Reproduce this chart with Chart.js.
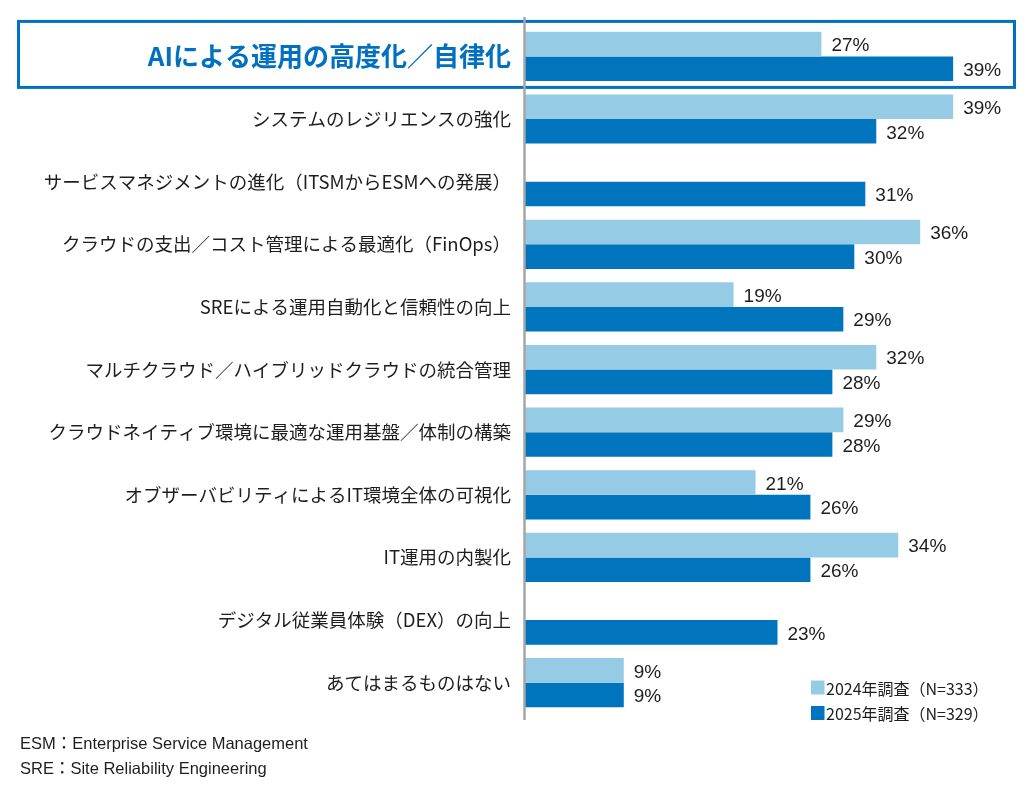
<!DOCTYPE html>
<html lang="ja">
<head>
<meta charset="utf-8">
<script src="https://cdn.jsdelivr.net/npm/chart.js@4.4.1/dist/chart.umd.min.js"></script>
<style>
  html, body { margin: 0; padding: 0; background: #ffffff; }
  #wrap { width: 1030px; height: 804px; }
</style>
</head>
<body>
<div id="wrap"><canvas id="c" width="1030" height="804"></canvas></div>
<script>
const categories = [
  "AIによる運用の高度化／自律化",
  "システムのレジリエンスの強化",
  "サービスマネジメントの進化（ITSMからESMへの発展）",
  "クラウドの支出／コスト管理による最適化（FinOps）",
  "SREによる運用自動化と信頼性の向上",
  "マルチクラウド／ハイブリッドクラウドの統合管理",
  "クラウドネイティブ環境に最適な運用基盤／体制の構築",
  "オブザーバビリティによるIT環境全体の可視化",
  "IT運用の内製化",
  "デジタル従業員体験（DEX）の向上",
  "あてはまるものはない"
];
const seriesNames = ["2024年調査（N=333）", "2025年調査（N=329）"];
const values2024 = [27, 39, null, 36, 19, 32, 29, 21, 34, null, 9];
const values2025 = [39, 32, 31, 30, 29, 28, 28, 26, 26, 23, 9];
const footnotes = ["ESM：Enterprise Service Management", "SRE：Site Reliability Engineering"];

const LIGHT = "#96CBE6";
const DARK = "#0075BE";
const BOX = "#0070C0";
const TEXT = "#1E1E1E";
const JP = "'Noto Sans CJK JP', 'Noto Sans', sans-serif";
const LAT = "'Liberation Sans', Arial, 'Noto Sans CJK JP', sans-serif";

const decor = {
  id: "decor",
  beforeDatasetsDraw(chart) {
    const { ctx } = chart;
    ctx.save();
    // highlight box around first category
    const y0 = chart.scales.y.getPixelForValue(0);
    ctx.strokeStyle = BOX;
    ctx.lineWidth = 3;
    ctx.strokeRect(18.5, y0 - 35, 996, 66);
    ctx.restore();
  },
  afterDatasetsDraw(chart) {
    const { ctx, chartArea } = chart;
    ctx.save();
    // axis line
    ctx.strokeStyle = "#A6A6A6";
    ctx.lineWidth = 2.5;
    ctx.beginPath();
    ctx.moveTo(chartArea.left - 0.5, chartArea.top - 8);
    ctx.lineTo(chartArea.left - 0.5, chartArea.bottom + 6);
    ctx.stroke();

    // data labels
    ctx.font = "19px " + LAT;
    ctx.fillStyle = TEXT;
    ctx.textAlign = "left";
    ctx.textBaseline = "middle";
    chart.data.datasets.forEach((ds, di) => {
      const meta = chart.getDatasetMeta(di);
      meta.data.forEach((el, i) => {
        const v = ds.data[i];
        if (v === null || v === undefined) return;
        ctx.fillText(v + "%", el.x + 10, el.y + 2);
      });
    });

    // legend (bottom right)
    ctx.font = "16px " + JP;
    chart.data.datasets.forEach((ds, di) => {
      const ly = 687.5 + di * 25.5;
      ctx.fillStyle = ds.backgroundColor;
      ctx.fillRect(811, ly - 7, 13.5, 14);
      ctx.fillStyle = TEXT;
      ctx.fillText(ds.label, 826, ly + 1);
    });

    // footnotes
    ctx.font = "16.5px " + LAT;
    footnotes.forEach((t, i) => {
      ctx.fillText(t, 20, 744 + i * 25);
    });
    ctx.restore();
  }
};

new Chart(document.getElementById("c"), {
  type: "bar",
  data: {
    labels: categories,
    datasets: [
      { label: seriesNames[0], data: values2024, backgroundColor: LIGHT, borderWidth: 0 },
      { label: seriesNames[1], data: values2025, backgroundColor: DARK, borderWidth: 0 }
    ]
  },
  options: {
    indexAxis: "y",
    responsive: false,
    animation: false,
    devicePixelRatio: 1,
    layout: { padding: { top: 21.5, bottom: 90, left: 0, right: 11 } },
    datasets: { bar: { categoryPercentage: 0.785, barPercentage: 1.0 } },
    plugins: {
      legend: { display: false },
      tooltip: { enabled: false },
      title: { display: false }
    },
    scales: {
      x: {
        display: false,
        min: 0,
        max: 45
      },
      y: {
        grid: { display: false, drawTicks: false },
        border: { display: false },
        afterFit(scale) { scale.width = 525; },
        ticks: {
          autoSkip: false,
          padding: 14,
          color: (c) => c.index === 0 ? BOX : TEXT,
          font: (c) => c.index === 0
            ? { family: JP, size: 26, weight: "bold" }
            : { family: JP, size: 18.5, weight: "normal" }
        }
      }
    }
  },
  plugins: [decor]
});
</script>
</body>
</html>
